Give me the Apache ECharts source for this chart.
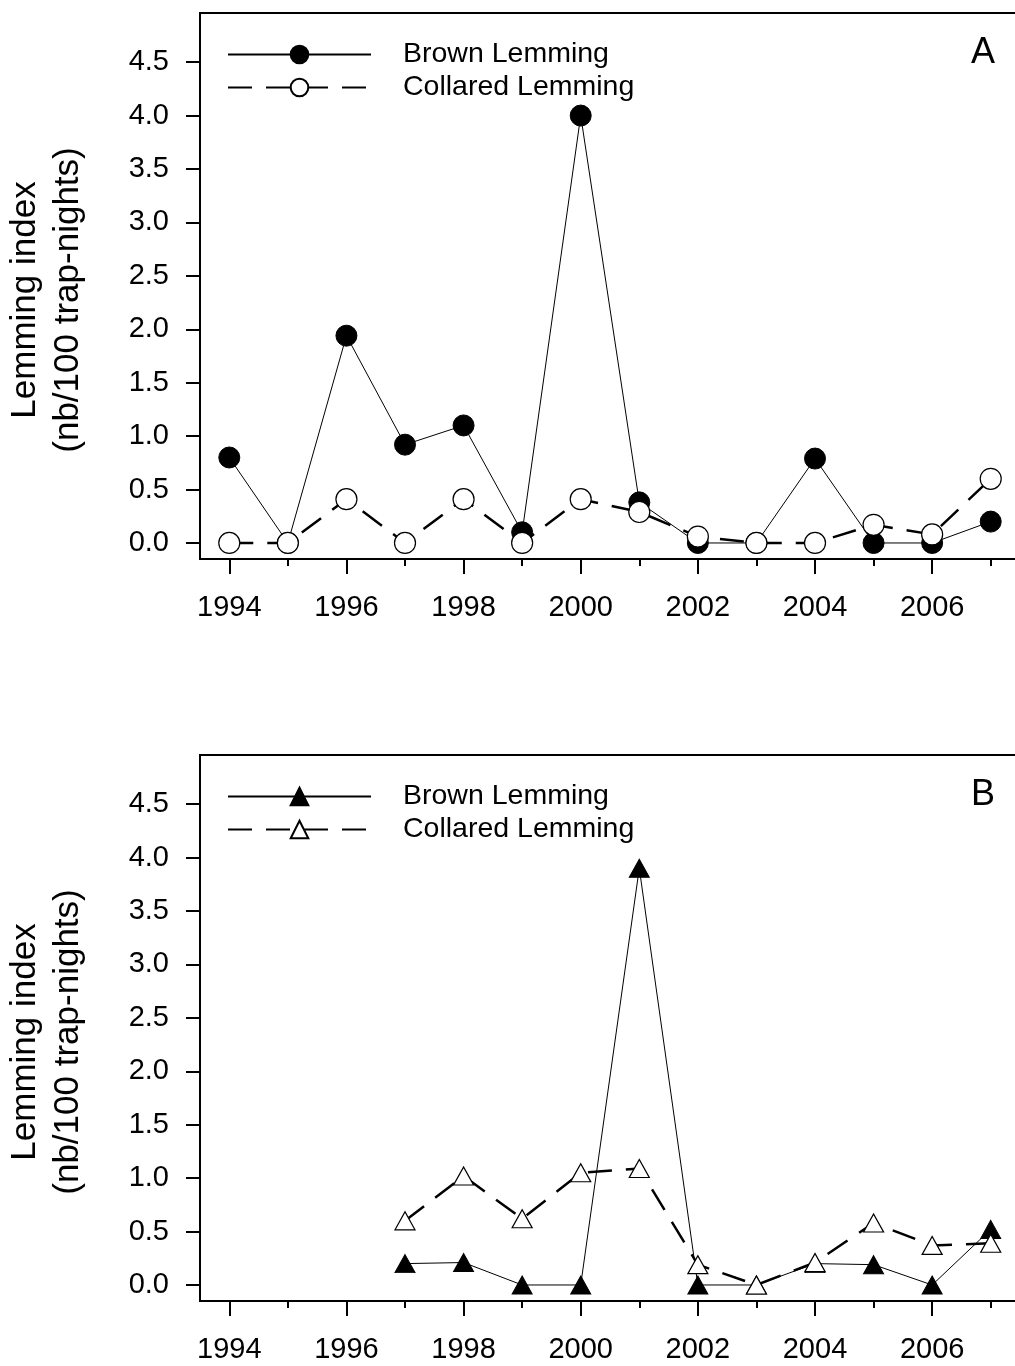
<!DOCTYPE html>
<html>
<head>
<meta charset="utf-8">
<script src="https://cdn.jsdelivr.net/npm/echarts@6/dist/echarts.min.js"></script>
<style>
html,body{margin:0;padding:0;background:#fff;}
#chart{width:1015px;height:1366px;}
</style>
</head>
<body>
<div id="chart"></div>
<script>
var years = ['1994','1995','1996','1997','1998','1999','2000','2001','2002','2003','2004','2005','2006','2007'];
var brownA = [0.8, 0, 1.94, 0.92, 1.1, 0.1, 4.0, 0.38, 0, 0, 0.79, 0, 0, 0.2];
var collaredA = [0, 0, 0.41, 0, 0.41, 0, 0.41, 0.29, 0.06, 0, 0, 0.17, 0.08, 0.6];
var brownB = [null, null, null, 0.2, 0.21, 0, 0, 3.9, 0, 0, 0.2, 0.19, 0, 0.52];
var collaredB = [null, null, null, 0.6, 1.02, 0.62, 1.05, 1.09, 0.19, 0, 0.21, 0.58, 0.37, 0.39];
var yTicks = [0, 0.5, 1, 1.5, 2, 2.5, 3, 3.5, 4, 4.5];
var yTitle = 'Lemming index\n(nb/100 trap-nights)';
var panelLabels = ['A', 'B'];

var FONT = '"Liberation Sans", Arial, sans-serif';
var chart = echarts.init(document.getElementById('chart'), null, {renderer: 'canvas'});

var gridTops = [13, 755];
var grids = gridTops.map(function (t) {
  return {left: 200, top: t, width: 820, height: 546, show: true, borderColor: '#000', borderWidth: 2,
    backgroundColor: 'transparent', containLabel: false, outerBoundsMode: 'none'};
});

var xAxes = [];
var yAxes = [];
[0, 1].forEach(function (g) {
  xAxes.push({
    type: 'category', gridIndex: g, data: years, boundaryGap: true, position: 'bottom',
    axisLine: {show: true, onZero: false, lineStyle: {color: '#000', width: 2}},
    axisTick: {show: true, alignWithLabel: true, interval: 1, length: 15, lineStyle: {color: '#000', width: 2}},
    axisLabel: {show: true, interval: 1, margin: 34, color: '#000', fontSize: 29, fontFamily: FONT, hideOverlap: false},
    splitLine: {show: false}
  });
  xAxes.push({
    type: 'category', gridIndex: g, data: years, boundaryGap: true, position: 'bottom',
    axisLine: {show: false, onZero: false},
    axisTick: {show: true, alignWithLabel: true, interval: 0, length: 7, lineStyle: {color: '#000', width: 2}},
    axisLabel: {show: false},
    splitLine: {show: false}
  });
  yAxes.push({
    type: 'value', gridIndex: g, min: -0.15, max: 4.96,
    axisLine: {show: true, onZero: false, lineStyle: {color: '#000', width: 2}},
    axisTick: {show: true, length: 14, customValues: yTicks, lineStyle: {color: '#000', width: 2}},
    axisLabel: {show: true, customValues: yTicks, margin: 31, color: '#000', fontSize: 29, fontFamily: FONT,
      formatter: function (v) { return Number(v).toFixed(1); }},
    splitLine: {show: false},
    name: yTitle, nameLocation: 'middle', nameGap: 110, nameRotate: 90,
    nameTextStyle: {color: '#000', fontSize: 35, fontFamily: FONT, lineHeight: 43, align: 'center', padding: [0, 28, 0, 0]}
  });
});

function brownSeries(name, data, g, sym, size) {
  return {
    name: name, type: 'line', xAxisIndex: g * 2, yAxisIndex: g, data: data,
    symbol: sym, symbolSize: size, showSymbol: true, connectNulls: false,
    lineStyle: {color: '#000', width: 1},
    itemStyle: {color: '#000', borderColor: '#000', borderWidth: 1},
    z: 2, animation: false
  };
}
function collaredSeries(name, data, g, sym, size) {
  return {
    name: name, type: 'line', xAxisIndex: g * 2, yAxisIndex: g, data: data,
    symbol: sym, symbolSize: size, showSymbol: true, connectNulls: false,
    lineStyle: {color: '#000', width: 2.5, type: [24, 14]},
    itemStyle: {color: '#fff', borderColor: '#000', borderWidth: 1.2},
    z: 3, animation: false
  };
}

var series = [
  brownSeries('A Brown Lemming', brownA, 0, 'circle', 21),
  collaredSeries('A Collared Lemming', collaredA, 0, 'circle', 21),
  brownSeries('B Brown Lemming', brownB, 1, 'triangle', [20, 18]),
  collaredSeries('B Collared Lemming', collaredB, 1, 'triangle', [20, 18])
];

function legendFor(g) {
  var p = panelLabels[g];
  return {
    orient: 'vertical', left: 222, top: gridTops[g] + 22,
    itemWidth: 143, itemHeight: 22, itemGap: 4,
    data: [p + ' Brown Lemming', p + ' Collared Lemming'],
    formatter: function (n) { return n.slice(2); },
    textStyle: {color: '#000', fontSize: 28.5, fontFamily: FONT, padding: [0, 0, 0, 27]},
    selectedMode: false
  };
}

var option = {
  backgroundColor: '#fff',
  animation: false,
  grid: grids,
  xAxis: xAxes,
  yAxis: yAxes,
  legend: [legendFor(0), legendFor(1)],
  series: series,
  graphic: panelLabels.map(function (t, g) {
    return {type: 'text', left: 971, top: gridTops[g] + 22, z: 10,
      style: {text: t, fill: '#000', fontSize: 36, fontFamily: FONT}};
  })
};
chart.setOption(option);
</script>
</body>
</html>
